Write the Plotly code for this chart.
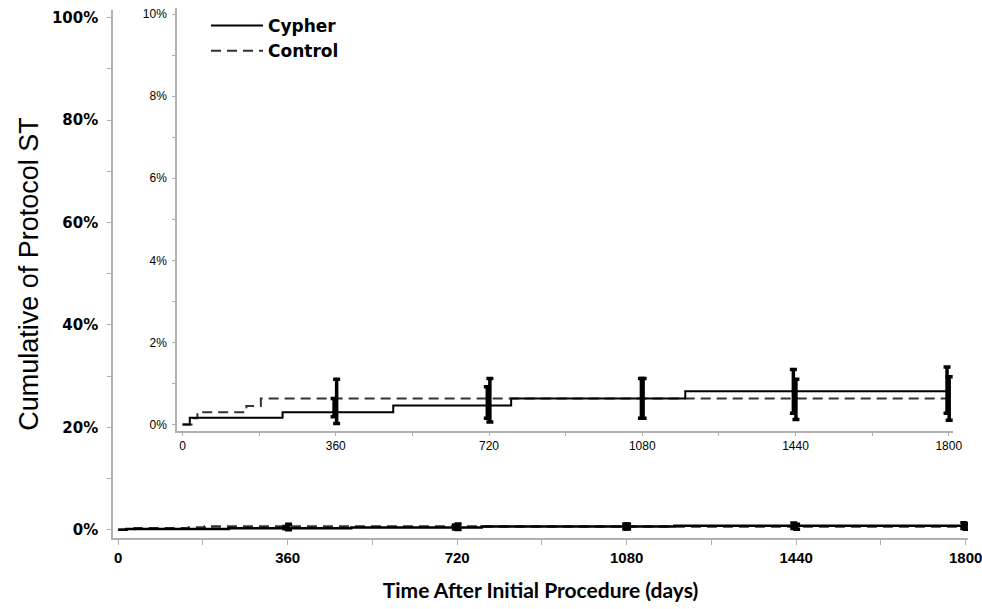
import plotly.graph_objects as go

# ---- data (percent) ----
cypher_t = [0, 17, 235, 495, 772, 1181, 1800]
cypher_v = [0.0, 0.16, 0.30, 0.46, 0.63, 0.81, 0.81]
control_t = [0, 25, 35, 150, 184, 1800]
control_v = [0.0, 0.15, 0.30, 0.45, 0.63, 0.63]

cypher_ci_t = [356, 716, 1078, 1435, 1796]
cypher_ci_v = [0.30, 0.46, 0.63, 0.81, 0.81]
cypher_ci_lo = [0.19, 0.15, 0.15, 0.27, 0.27]
cypher_ci_hi = [0.63, 0.92, 1.12, 1.34, 1.40]

control_ci_t = [362, 722, 1082, 1441, 1801]
control_ci_v = [0.63, 0.63, 0.63, 0.63, 0.63]
control_ci_lo = [0.02, 0.06, 0.15, 0.12, 0.10]
control_ci_hi = [1.10, 1.12, 1.12, 1.10, 1.16]

x_ticks = [0, 180, 360, 540, 720, 900, 1080, 1260, 1440, 1620, 1800]
x_labels = ["0", "", "360", "", "720", "", "1080", "", "1440", "", "1800"]
main_y_ticks = [0, 10, 20, 30, 40, 50, 60, 70, 80, 90, 100]
main_y_labels = ["0%", "", "20%", "", "40%", "", "60%", "", "80%", "", "100%"]
inset_y_ticks = [0, 1, 2, 3, 4, 5, 6, 7, 8, 9, 10]
inset_y_labels = ["0%", "", "2%", "", "4%", "", "6%", "", "8%", "", "10%"]

W, H = 982, 609

fig = go.Figure()

def add_set(xa, ya, lw, ebw, show):
    fig.add_trace(go.Scatter(x=control_t, y=control_v, mode="lines", line_shape="hv",
                             name="Control", legendrank=2, showlegend=show,
                             line=dict(color="#333333", width=lw, dash="10px,6px"),
                             xaxis=xa, yaxis=ya))
    fig.add_trace(go.Scatter(x=cypher_t, y=cypher_v, mode="lines", line_shape="hv",
                             name="Cypher", legendrank=1, showlegend=show,
                             line=dict(color="black", width=lw),
                             xaxis=xa, yaxis=ya))
    for t, v, lo, hi in [(cypher_ci_t, cypher_ci_v, cypher_ci_lo, cypher_ci_hi),
                         (control_ci_t, control_ci_v, control_ci_lo, control_ci_hi)]:
        fig.add_trace(go.Scatter(
            x=t, y=v, mode="markers", showlegend=False,
            marker=dict(size=1, color="rgba(0,0,0,0)"),
            error_y=dict(type="data", symmetric=False,
                         array=[h - c for h, c in zip(hi, v)],
                         arrayminus=[c - l for c, l in zip(v, lo)],
                         color="black", thickness=ebw, width=3.5),
            xaxis=xa, yaxis=ya))

add_set("x", "y", 2.5, 3.5, False)
add_set("x2", "y2", 2, 3.5, True)

axis_common = dict(showline=True, linecolor="#b0b0b0", linewidth=1.5, ticks="outside",
                   tickcolor="#b0b0b0", showgrid=False, zeroline=False, automargin=False,
                   ticklabeloverflow="allow")

fig.update_layout(
    width=W, height=H,
    margin=dict(l=0, r=0, t=0, b=0),
    paper_bgcolor="white", plot_bgcolor="rgba(0,0,0,0)",
    font=dict(family="Liberation Sans", color="black"),
    xaxis=dict(domain=[113 / W, 968 / W], range=[-11, 1805], tickvals=x_ticks, ticktext=x_labels,
               ticklen=5, tickfont=dict(family="Liberation Sans", size=15, weight="bold"), anchor="y",
               title=dict(text="<b>Time After Initial Procedure (days)</b>",
                          font=dict(family="Lato", size=21), standoff=19),
               **axis_common),
    yaxis=dict(domain=[(H - 538) / H, (H - 10) / H], range=[-1.6, 101.5], tickvals=main_y_ticks,
               ticktext=main_y_labels, ticklen=4,
               tickfont=dict(family="DejaVu Sans", size=15, weight="bold"), anchor="x",
               ticklabelstandoff=6,
               title=dict(text="Cumulative of Protocol ST", font=dict(size=27), standoff=5),
               **axis_common),
    xaxis2=dict(domain=[177 / W, 953 / W], range=[-13, 1810], tickvals=x_ticks, ticktext=x_labels,
                ticklen=3, tickfont=dict(size=12), anchor="y2", **axis_common),
    yaxis2=dict(domain=[(H - 431) / H, (H - 8) / H], range=[-0.16, 10.15], tickvals=inset_y_ticks,
                ticktext=inset_y_labels, ticklen=3, tickfont=dict(size=12), anchor="x2",
                ticklabelstandoff=3, **axis_common),
    legend=dict(x=206 / W, y=(H - 8) / H, xanchor="left", yanchor="top", itemwidth=52,
                font=dict(family="DejaVu Sans", size=17, weight="bold"),
                bgcolor="rgba(0,0,0,0)", tracegroupgap=0),
    showlegend=True,
)

fig.write_html("out.html")
